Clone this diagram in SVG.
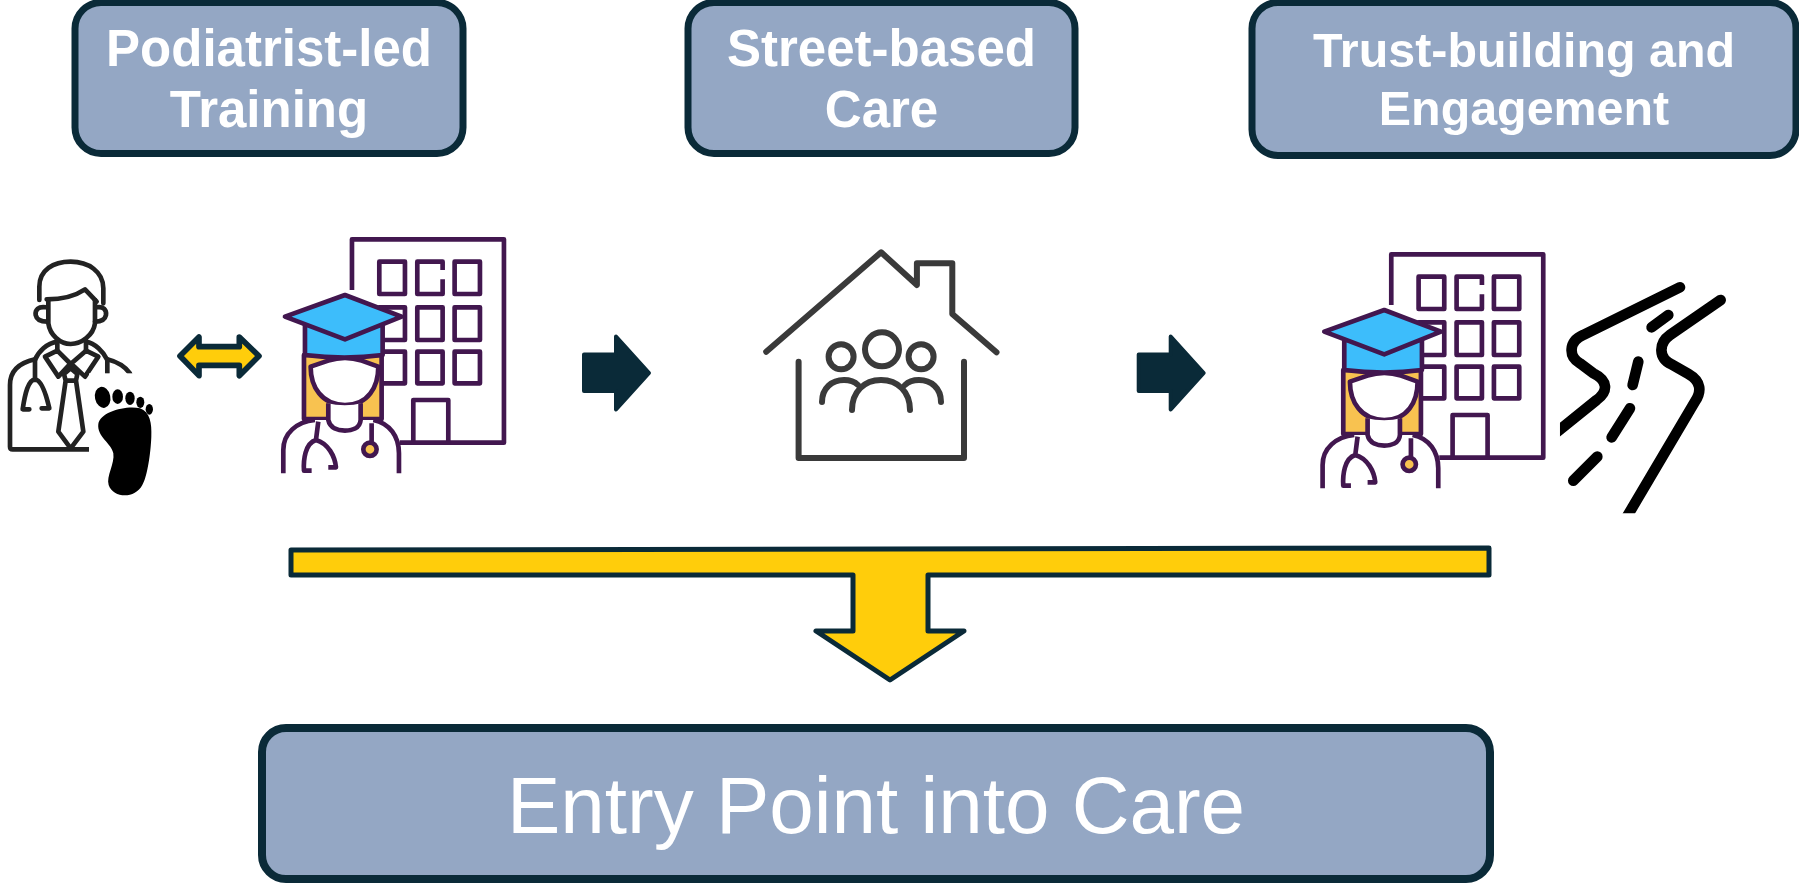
<svg xmlns="http://www.w3.org/2000/svg" width="1799" height="885" viewBox="0 0 1799 885">
<style>
.box{fill:#94a7c4;stroke:#0a2a38}
.h{font-family:"Liberation Sans",Arial,sans-serif;font-weight:700;font-size:51px;fill:#fff;text-anchor:middle}
.h2{font-size:48.400px}
.big{font-family:"Liberation Sans",Arial,sans-serif;font-size:80px;fill:#fff;text-anchor:middle}
.yel{fill:#ffcd0b;stroke:#0a2a38;stroke-linejoin:round}
.dk{fill:#0a2a38;stroke:#0a2a38;stroke-width:4;stroke-linejoin:round}
.doc{fill:none;stroke:#222;stroke-width:14;stroke-linecap:round;stroke-linejoin:round}
.pur{fill:none;stroke:#42174f;stroke-width:14;stroke-linecap:butt;stroke-linejoin:round}
.pf{stroke:#42174f;stroke-width:14;stroke-linejoin:round}
.hs{fill:none;stroke:#3a3a3a;stroke-width:6;stroke-linecap:round;stroke-linejoin:round}
.rd{fill:none;stroke:#000;stroke-width:32;stroke-linecap:round;stroke-linejoin:round}
</style>
<defs>
<clipPath id="rc"><rect x="780" y="100" width="560" height="750"/></clipPath>
<g id="student">
<path class="pur" d="M1056,210V58H1512V668H1200"/>
<path class="pur" d="M1138,125H1215V222H1138Z"/>
<path class="pur" d="M1328,150V125H1252V222H1328V178"/>
<path class="pur" d="M1364,125H1440V222H1364Z"/>
<path class="pur" d="M1138,262H1215V360H1138Z"/>
<path class="pur" d="M1252,262H1328V360H1252Z"/>
<path class="pur" d="M1364,262H1440V360H1364Z"/>
<path class="pur" d="M1138,395H1215V490H1138Z"/>
<path class="pur" d="M1252,395H1328V490H1252Z"/>
<path class="pur" d="M1364,395H1440V490H1364Z"/>
<path class="pur" d="M1240,665V540H1345V665"/>
<path class="pf" d="M912,405V597H1145V405Z" fill="#f8c250"/>
<path d="M850,760V690C850,640 890,605 945,600H1120C1170,610 1197,650 1197,700V760Z" fill="#fff"/>
<path class="pur" d="M850,760V690C850,640 890,605 945,600M1120,600C1170,610 1197,650 1197,700V760"/>
<path class="pf" d="M932,440C932,500 965,555 1035,555C1105,555 1135,500 1135,440L1085,422Q1035,405 985,422Z" fill="#fff"/>
<path d="M985,550V600C990,625 1015,632 1035,632C1055,632 1080,625 1082,600V550C1060,558 1010,558 985,550Z" fill="#fff"/>
<path class="pur" d="M985,550V600C990,625 1015,632 1035,632C1055,632 1080,625 1082,600V550"/>
<path class="pur" d="M955,605L948,660M948,660C915,670 910,720 912,752H935M948,660C985,670 1005,710 1008,742H985M1115,610V665"/>
<circle class="pf" cx="1110" cy="688" r="20" fill="#f8c250"/>
<path class="pf" d="M915,315V405Q1035,420 1148,405V315Z" fill="#3dbdfb"/>
<path class="pf" d="M1035,225L1205,290L1035,358L855,290Z" fill="#3dbdfb"/>
</g>
</defs>
<g id="connectors">
<path class="yel" stroke-width="17" transform="translate(0,220) scale(.3333)" d="M540,408L597,351V380H718V351L777,408L718,467V436H597V467Z"/>
<path class="dk" d="M584,354.500H616V336.500L649,373L616,409.500V391H584Z"/>
<path class="dk" transform="translate(554.700,0)" d="M584,354.500H616V336.500L649,373L616,409.500V391H584Z"/>
<path class="yel" stroke-width="5" d="M291,550L1489,548V575H928V631H964L890,680L816,631H853V575H291Z"/>
</g>
<g id="node-podiatrist-led-training">
<rect class="box" x="75" y="2.500" width="388" height="151" rx="26" stroke-width="7"/>
<text class="h" x="269" y="66">Podiatrist-led</text>
<text class="h" x="269" y="127">Training</text>
</g>
<g id="node-street-based-care">
<rect class="box" x="688" y="2.500" width="387" height="151" rx="26" stroke-width="7"/>
<text class="h" x="881.500" y="66">Street-based</text>
<text class="h" x="881.500" y="127">Care</text>
</g>
<g id="node-trust-building">
<rect class="box" x="1252" y="2.500" width="544" height="153" rx="26" stroke-width="7"/>
<text class="h h2" x="1524" y="67">Trust-building and</text>
<text class="h h2" x="1524" y="125">Engagement</text>
</g>
<g id="node-entry-point">
<rect class="box" x="262" y="728" width="1228" height="151" rx="24" stroke-width="8"/>
<text class="big" x="876" y="833">Entry Point into Care</text>
</g>
<g id="icon-doctor" transform="translate(0,220) scale(.3333)">
<path class="doc" d="M118,240V200C118,150 160,125 212,125C265,125 310,155 310,205V250"/>
<path class="doc" d="M140,238C190,238 230,225 255,208L290,245"/>
<path class="doc" d="M145,240V310C150,345 180,372 212,372C245,372 280,345 285,310V240"/>
<path class="doc" d="M138,262C115,258 105,270 107,285C110,300 125,305 142,305M290,262C310,258 320,270 318,285C315,300 300,305 285,305"/>
<path class="doc" d="M172,360V395M258,360V395M172,365C140,370 115,395 105,420M258,365C285,370 310,395 322,420"/>
<path class="doc" d="M172,392L135,410L175,470L212,430L255,470L295,410L258,392M172,392L212,432L258,392"/>
<path class="doc" d="M105,418C60,428 30,450 30,495V680Q30,688 38,688H270M322,418C350,425 375,440 390,460"/>
<path class="doc" d="M105,420V480M105,478C85,480 75,520 68,568H88M105,478C125,480 140,530 148,565H125M322,420V460"/>
<path class="doc" d="M197,482L175,635L212,685L250,635L228,482ZM197,482L192,462L212,445L232,462L228,482"/>
<rect x="267" y="460" width="213" height="370" fill="#fff"/>
<g id="foot" fill="#000">
<ellipse cx="308" cy="532" rx="23" ry="32" transform="rotate(-12 308 532)"/>
<ellipse cx="353" cy="530" rx="16" ry="22"/>
<ellipse cx="390" cy="535" rx="14" ry="20"/>
<ellipse cx="421" cy="547" rx="12" ry="17"/>
<ellipse cx="448" cy="568" rx="11" ry="16"/>
<path d="M295,612C300,575 380,555 420,565C450,575 456,610 454,650C452,700 442,770 427,795C405,838 340,835 326,795C318,770 345,730 340,700C335,670 290,650 295,612Z"/>
</g>
</g>
<g id="icon-student-1" transform="translate(0,220) scale(.3333)"><use href="#student"/></g>
<g id="icon-house">
<path class="hs" d="M766.200,351.700L881.100,252.300L916.900,285V263.300H952.300V314L996.500,352.300"/>
<path class="hs" d="M798.600,361.700V458H964V361.700"/>
<ellipse class="hs" cx="882" cy="349.300" rx="17" ry="17"/>
<circle class="hs" cx="841.100" cy="356.700" r="12.500"/>
<circle class="hs" cx="921.100" cy="356.700" r="12.500"/>
<path class="hs" d="M852,410C852,392 864,380 881,380C898,380 910,392 910,410"/>
<path class="hs" d="M822,402C822,388 832,380 844,380C850,380 854,381 858,385"/>
<path class="hs" d="M941,402C941,388 931,380 919,380C913,380 909,381 905,385"/>
</g>
<g id="icon-student-2" transform="translate(1039.300,235) scale(.3333)"><use href="#student"/></g>
<g id="icon-road" transform="translate(1300,230) scale(.3333)" clip-path="url(#rc)">
<path class="rd" d="M1140,172L850,315C805,335 805,380 840,400L880,430C925,452 925,485 890,510L760,615"/>
<path class="rd" d="M1262,210L1110,315C1075,340 1075,385 1115,403L1165,432C1205,455 1205,485 1185,515L975,870"/>
<path class="rd" d="M1055,292L1105,255M1015,395L998,465M990,535L935,622M892,680L820,752"/>
</g>
</svg>
